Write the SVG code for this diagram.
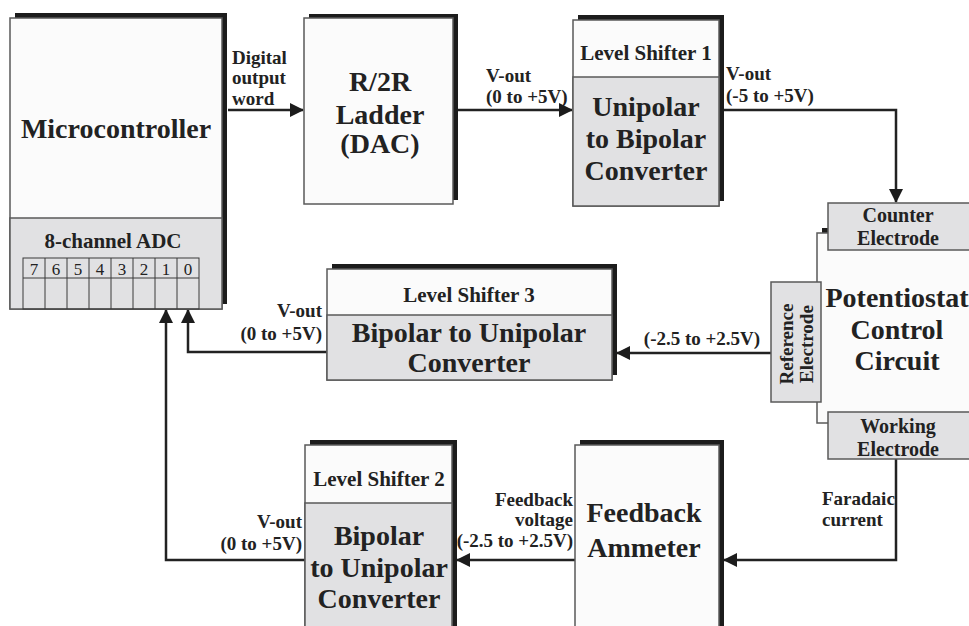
<svg xmlns="http://www.w3.org/2000/svg" width="969" height="626" viewBox="0 0 969 626">
<defs>
<style>
.sh{fill:#1c1c1c}
.bx{fill:#fbfbfb;stroke:#5a5a5a;stroke-width:1.5}
.gr{fill:#e1e1e3;stroke:#5a5a5a;stroke-width:1.5}
.ln{fill:none;stroke:#5a5a5a;stroke-width:1.5}
.grid{fill:none;stroke:#3a3a3a;stroke-width:1}
.cn{fill:none;stroke:#222;stroke-width:2.5}
text{font-family:"Liberation Serif","Times New Roman",serif;font-weight:bold;fill:#222}
.t28{font-size:28px;text-anchor:middle}
.t21{font-size:21px;text-anchor:middle}
.t20{font-size:20px;text-anchor:middle}
.t19{font-size:19px}
.mid{text-anchor:middle}
.end{text-anchor:end}
.dg{font-size:17px;font-weight:normal;text-anchor:middle}
</style>
<marker id="ah" markerUnits="userSpaceOnUse" markerWidth="14" markerHeight="14" viewBox="0 0 14 14" refX="13" refY="7" orient="auto">
<path d="M0,0 L14,7 L0,14 Z" fill="#1c1c1c"/>
</marker>
</defs>

<g id="connectors">
<path class="cn" d="M228,110 H303" marker-end="url(#ah)"/>
<path class="cn" d="M457,110 H572" marker-end="url(#ah)"/>
<path class="cn" d="M724,110 H896 V202" marker-end="url(#ah)"/>
<path class="cn" d="M771,353 H617" marker-end="url(#ah)"/>
<path class="cn" d="M327,352 H188 V310" marker-end="url(#ah)"/>
<path class="cn" d="M896,459 V560 H724" marker-end="url(#ah)"/>
<path class="cn" d="M575,560 H457" marker-end="url(#ah)"/>
<path class="cn" d="M305,560 H166 V310" marker-end="url(#ah)"/>
</g>

<g id="microcontroller">
<rect class="sh" x="15" y="13" width="212" height="291"/>
<rect class="bx" x="10" y="18" width="212" height="291"/>
<rect class="gr" x="10" y="218" width="212" height="91"/>
<text class="t28" x="116" y="138">Microcontroller</text>
<text class="t21" x="113" y="248">8-channel ADC</text>
<rect class="grid" x="23" y="258" width="176" height="51"/>
<path class="grid" d="M23,278 H199 M45,258 V309 M67,258 V309 M89,258 V309 M111,258 V309 M133,258 V309 M155,258 V309 M177,258 V309"/>
<text class="dg" x="34" y="275">7</text>
<text class="dg" x="56" y="275">6</text>
<text class="dg" x="78" y="275">5</text>
<text class="dg" x="100" y="275">4</text>
<text class="dg" x="122" y="275">3</text>
<text class="dg" x="144" y="275">2</text>
<text class="dg" x="166" y="275">1</text>
<text class="dg" x="188" y="275">0</text>
</g>

<g id="label-digital">
<text class="t19" x="232" y="64">Digital</text>
<text class="t19" x="232" y="84">output</text>
<text class="t19" x="232" y="105">word</text>
</g>

<g id="dac">
<rect class="sh" x="309" y="14" width="149" height="186"/>
<rect class="bx" x="304" y="18" width="149" height="186"/>
<text class="t28" x="380" y="91">R/2R</text>
<text class="t28" x="380" y="124">Ladder</text>
<text class="t28" x="380" y="153">(DAC)</text>
</g>

<g id="label-dac-out">
<text class="t19" x="486" y="82">V-out</text>
<text class="t19" x="486" y="103">(0 to +5V)</text>
</g>

<g id="level-shifter-1">
<rect class="sh" x="578" y="15" width="146" height="186"/>
<rect class="bx" x="573" y="20" width="146" height="186"/>
<rect class="gr" x="573" y="77" width="146" height="129"/>
<text class="t21" x="646" y="60">Level Shifter 1</text>
<text class="t28" x="646" y="116">Unipolar</text>
<text class="t28" x="646" y="148">to Bipolar</text>
<text class="t28" x="646" y="180">Converter</text>
</g>

<g id="label-ls1-out">
<text class="t19" x="726" y="80">V-out</text>
<text class="t19" x="726" y="102">(-5 to +5V)</text>
</g>

<g id="potentiostat">
<rect class="sh" x="822" y="228" width="160" height="190"/>
<rect class="bx" x="817" y="233" width="165" height="190"/>
<rect class="gr" x="828" y="203" width="145" height="47"/>
<text class="t20" x="898" y="222">Counter</text>
<text class="t20" x="898" y="245">Electrode</text>
<rect class="gr" x="828" y="412" width="145" height="47"/>
<text class="t20" x="898" y="433">Working</text>
<text class="t20" x="898" y="456">Electrode</text>
<rect class="gr" x="771" y="282" width="50" height="120"/>
<text class="mid" font-size="19" transform="translate(793,344) rotate(-90)">Reference</text>
<text class="mid" font-size="19" transform="translate(813,344) rotate(-90)">Electrode</text>
<text class="t28" x="897" y="307">Potentiostat</text>
<text class="t28" x="897" y="339">Control</text>
<text class="t28" x="897" y="370">Circuit</text>
</g>

<g id="label-ref-out">
<text class="t19 mid" x="702" y="345">(-2.5 to +2.5V)</text>
</g>

<g id="level-shifter-3">
<rect class="sh" x="332" y="264" width="285" height="111"/>
<rect class="bx" x="327" y="269" width="285" height="111"/>
<rect class="gr" x="327" y="315" width="285" height="65"/>
<text class="t21" x="469" y="302">Level Shifter 3</text>
<text class="t28" x="469" y="342">Bipolar to Unipolar</text>
<text class="t28" x="469" y="372">Converter</text>
</g>

<g id="label-ls3-out">
<text class="t19 end" x="322" y="317">V-out</text>
<text class="t19 end" x="322" y="340">(0 to +5V)</text>
</g>

<g id="level-shifter-2">
<rect class="sh" x="310" y="440" width="147" height="200"/>
<rect class="bx" x="305" y="445" width="147" height="200"/>
<rect class="gr" x="305" y="503" width="147" height="142"/>
<text class="t21" x="379" y="486">Level Shifter 2</text>
<text class="t28" x="379" y="545">Bipolar</text>
<text class="t28" x="379" y="577">to Unipolar</text>
<text class="t28" x="379" y="608">Converter</text>
</g>

<g id="label-ls2-out">
<text class="t19 end" x="302" y="528">V-out</text>
<text class="t19 end" x="302" y="550">(0 to +5V)</text>
</g>

<g id="feedback-ammeter">
<rect class="sh" x="580" y="440" width="144" height="200"/>
<rect class="bx" x="575" y="445" width="144" height="200"/>
<text class="t28" x="644" y="522">Feedback</text>
<text class="t28" x="644" y="557">Ammeter</text>
</g>

<g id="label-feedback">
<text class="t19 end" x="573" y="506">Feedback</text>
<text class="t19 end" x="573" y="526">voltage</text>
<text class="t19 end" x="573" y="547">(-2.5 to +2.5V)</text>
</g>

<g id="label-faradaic">
<text class="t19" x="822" y="505">Faradaic</text>
<text class="t19" x="822" y="526">current</text>
</g>
</svg>
